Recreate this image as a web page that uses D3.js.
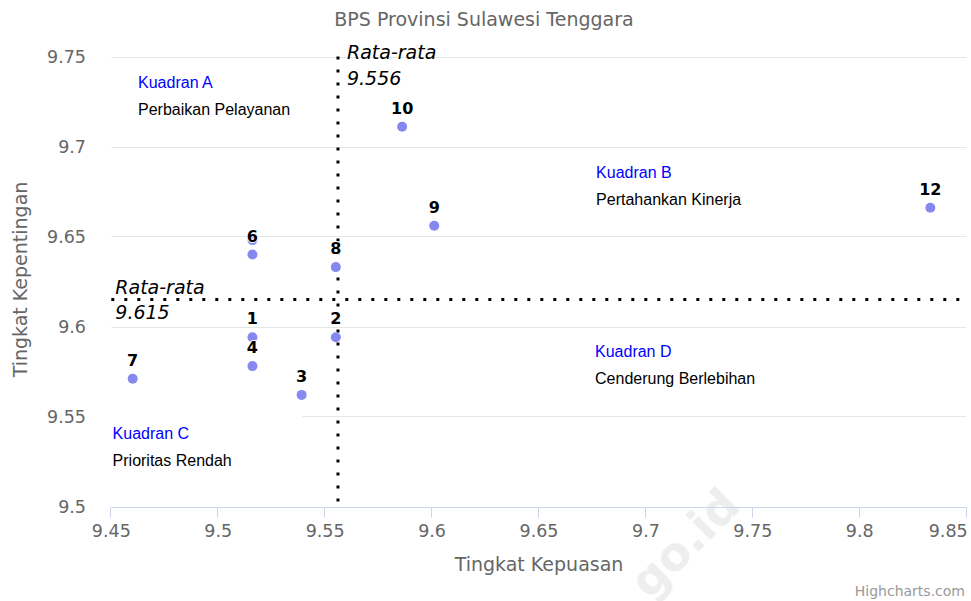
<!DOCTYPE html>
<html>
<head>
<meta charset="utf-8">
<script src="https://cdn.jsdelivr.net/npm/d3@7"></script>
<style>
  body { margin: 0; background: #fff; }
  svg { display: block; }
  .grid line { stroke: #e6e6e6; stroke-width: 1; }
  .tick-label { fill: #666; font-family: "DejaVu Sans", Verdana, sans-serif; font-size: 17.5px; }
  .axis-title { fill: #666; font-family: "DejaVu Sans", Verdana, sans-serif; font-size: 19px; }
  .avg-label { fill: #000; font-family: "DejaVu Sans", Verdana, sans-serif; font-size: 19px; font-style: italic; }
  .point-label { fill: #000; font-family: "DejaVu Sans", Verdana, sans-serif; font-size: 16px; font-weight: bold;
    stroke: #fff; stroke-width: 2px; paint-order: stroke; stroke-linejoin: round; }
  .quad { font-family: "Liberation Sans", Arial, sans-serif; font-size: 16px; }
</style>
</head>
<body>
<svg width="971" height="601"></svg>
<script>
// data
const pointNames = ["10", "9", "12", "6", "11", "8", "1", "2", "4", "7", "3"];
const kepuasan = [9.586, 9.601, 9.833, 9.516, 9.516, 9.555, 9.516, 9.555, 9.516, 9.460, 9.539];
const kepentingan = [9.711, 9.656, 9.666, 9.640, 9.648, 9.633, 9.594, 9.594, 9.578, 9.571, 9.562];

const avgKepuasan = 9.556;
const avgKepentingan = 9.615;

const xTicks = [9.45, 9.5, 9.55, 9.6, 9.65, 9.7, 9.75, 9.8, 9.85];
const yTicks = [9.5, 9.55, 9.6, 9.65, 9.7, 9.75];

const quadTitles = ["Kuadran A", "Kuadran B", "Kuadran C", "Kuadran D"];
const quadTexts = ["Perbaikan Pelayanan", "Pertahankan Kinerja", "Prioritas Rendah", "Cenderung Berlebihan"];
const quadX = [9.4625, 9.6767, 9.4506, 9.6762];
const quadY = [9.7325, 9.6823, 9.5373, 9.5832];

const svg = d3.select("svg");
const W = 971, H = 601;

const x = d3.scaleLinear().domain([9.45, 9.85]).range([111.3, 966.7]);
const y = d3.scaleLinear().domain([9.5, 9.75]).range([506.5, 56.5]);
const fmt = d3.format("");

// watermark (only its tail shows in the picture)
svg.append("text")
  .attr("transform", "translate(742,508) rotate(-45)")
  .attr("text-anchor", "end")
  .attr("font-family", "DejaVu Sans, sans-serif")
  .attr("font-weight", "bold")
  .attr("font-size", 46)
  .attr("fill", "#eeeeee")
  .text("go.id");

// title
svg.append("text")
  .attr("class", "axis-title")
  .attr("x", 484)
  .attr("y", 26)
  .attr("text-anchor", "middle")
  .text("BPS Provinsi Sulawesi Tenggara");

// horizontal grid
svg.append("g")
  .attr("class", "grid")
  .selectAll("line")
  .data(yTicks.slice(1))
  .enter()
  .append("line")
  .attr("x1", x.range()[0])
  .attr("x2", x.range()[1])
  .attr("y1", (d) => Math.round(y(d)) + 0.5)
  .attr("y2", (d) => Math.round(y(d)) + 0.5);

// y tick labels
svg.append("g")
  .selectAll("text")
  .data(yTicks)
  .enter()
  .append("text")
  .attr("class", "tick-label")
  .attr("x", 86)
  .attr("y", (d) => y(d) + 6)
  .attr("text-anchor", "end")
  .text((d) => fmt(d));

// x axis line and ticks
const axisY = Math.round(y(9.5)) + 0.5;
svg.append("line")
  .attr("x1", x.range()[0])
  .attr("x2", x.range()[1])
  .attr("y1", axisY)
  .attr("y2", axisY)
  .attr("stroke", "#ccd6eb");

svg.append("g")
  .selectAll("line")
  .data(xTicks)
  .enter()
  .append("line")
  .attr("x1", (d) => Math.round(x(d)) - 0.5)
  .attr("x2", (d) => Math.round(x(d)) - 0.5)
  .attr("y1", axisY)
  .attr("y2", axisY + 10)
  .attr("stroke", "#ccd6eb");

const xLabels = svg.append("g")
  .selectAll("text")
  .data(xTicks)
  .enter()
  .append("text")
  .attr("class", "tick-label")
  .attr("x", (d) => x(d))
  .attr("y", 537)
  .attr("text-anchor", "middle")
  .text((d) => fmt(d));

// keep the last label inside the chart
xLabels.each(function (d) {
  const w = this.getComputedTextLength();
  if (x(d) + w / 2 > W - 2) {
    d3.select(this).attr("text-anchor", "end").attr("x", x(d) + 1);
  }
});

// axis titles
svg.append("text")
  .attr("class", "axis-title")
  .attr("x", (x.range()[0] + x.range()[1]) / 2)
  .attr("y", 571)
  .attr("text-anchor", "middle")
  .text("Tingkat Kepuasan");

svg.append("text")
  .attr("class", "axis-title")
  .attr("transform", `translate(27,${(y.range()[0] + y.range()[1]) / 2 - 2}) rotate(-90)`)
  .attr("text-anchor", "middle")
  .text("Tingkat Kepentingan");

// quadrant notes
const quads = svg.append("g")
  .selectAll("g")
  .data(quadTitles)
  .enter()
  .append("g")
  .attr("transform", (d, i) => `translate(${x(quadX[i])},${y(quadY[i])})`);

quads.append("rect")
  .attr("x", -10)
  .attr("y", -25)
  .attr("width", 200)
  .attr("height", 62)
  .attr("fill", "#fff");

quads.append("text")
  .attr("class", "quad")
  .attr("fill", "#0000ff")
  .text((d) => d);

quads.append("text")
  .attr("class", "quad")
  .attr("fill", "#000")
  .attr("y", 27)
  .text((d, i) => quadTexts[i]);

// average lines
svg.append("line")
  .attr("x1", x(avgKepuasan))
  .attr("x2", x(avgKepuasan))
  .attr("y1", y.range()[1])
  .attr("y2", y.range()[0])
  .attr("stroke", "#000")
  .attr("stroke-width", 3)
  .attr("stroke-dasharray", "3,10");

svg.append("line")
  .attr("x1", x.range()[0])
  .attr("x2", x.range()[1])
  .attr("y1", y(avgKepentingan))
  .attr("y2", y(avgKepentingan))
  .attr("stroke", "#000")
  .attr("stroke-width", 3)
  .attr("stroke-dasharray", "3,10");

const vLabel = svg.append("text")
  .attr("class", "avg-label")
  .attr("x", x(avgKepuasan) + 9)
  .attr("y", y.range()[1] + 2);
vLabel.append("tspan").text("Rata-rata");
vLabel.append("tspan").attr("x", x(avgKepuasan) + 9).attr("dy", 26).text(avgKepuasan);

const hLabel = svg.append("text")
  .attr("class", "avg-label")
  .attr("x", x.range()[0] + 4)
  .attr("y", y(avgKepentingan) - 6);
hLabel.append("tspan").text("Rata-rata");
hLabel.append("tspan").attr("x", x.range()[0] + 4).attr("dy", 25).text(avgKepentingan);

// points
const pts = svg.append("g")
  .selectAll("g")
  .data(pointNames)
  .enter()
  .append("g")
  .attr("transform", (d, i) => `translate(${x(kepuasan[i])},${y(kepentingan[i])})`);

pts.append("circle")
  .attr("r", 5)
  .attr("fill", "#8589ef");

// data labels, skipping ones that collide with an earlier label
const placed = [];
pts.each(function (d, i) {
  const px = x(kepuasan[i]);
  const py = y(kepentingan[i]) - 13;
  const box = { x0: px - 12, x1: px + 12, y0: py - 16, y1: py + 4 };
  const hit = placed.some((b) => !(box.x1 < b.x0 || box.x0 > b.x1 || box.y1 < b.y0 || box.y0 > b.y1));
  if (hit) return;
  placed.push(box);
  svg.append("text")
    .attr("class", "point-label")
    .attr("x", px)
    .attr("y", py)
    .attr("text-anchor", "middle")
    .text(d);
});

// credits
svg.append("text")
  .attr("x", 965)
  .attr("y", 596)
  .attr("text-anchor", "end")
  .attr("font-family", "DejaVu Sans, sans-serif")
  .attr("font-size", 14)
  .attr("fill", "#999")
  .text("Highcharts.com");
</script>
</body>
</html>
